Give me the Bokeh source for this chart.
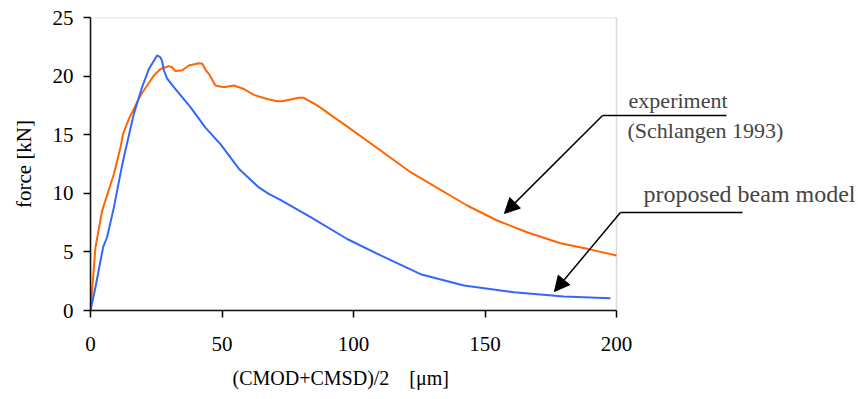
from bokeh.plotting import figure
from bokeh.models import Range1d, Label, Arrow, NormalHead, FixedTicker, BoxAnnotation, Title
from bokeh.embed import file_html
from bokeh.resources import INLINE

# experiment (Schlangen 1993)
exp_x = [0, 1.9, 4.4, 8.9, 11.4, 12.4, 14.6, 19.0, 24.1, 26.6, 29.8, 31.0, 32.3, 34.9,
         37.4, 41.2, 42.5, 43.7, 45.0, 47.5, 50.7, 54.5, 58.3, 62.1, 67.2, 71.0, 72.9,
         79.2, 81.1, 86.2, 92.5, 97.0, 110.3, 121.7, 143.2, 154.6, 166.0, 178.7, 188.9, 200.0]
exp_y = [0, 5.4, 8.5, 11.65, 13.9, 15.1, 16.35, 18.35, 20.05, 20.6, 20.85, 20.76, 20.43, 20.5,
         20.9, 21.1, 21.05, 20.56, 20.2, 19.2, 19.05, 19.2, 18.9, 18.4, 18.05, 17.85, 17.85,
         18.15, 18.15, 17.5, 16.5, 15.8, 13.65, 11.8, 8.96, 7.68, 6.68, 5.74, 5.26, 4.7]

# proposed beam model
model_x = [0, 1.9, 4.8, 6.3, 8.9, 11.4, 12.7, 16.5, 19.6, 22.2, 25.3, 26.6, 27.2, 27.9, 29.1,
           31.7, 38.0, 43.7, 49.4, 56.4, 64.0, 67.8, 72.2, 83.7, 97.6, 110.3, 125.5, 142.0,
           161.0, 180.0, 197.7]
model_y = [0, 2.0, 5.4, 6.25, 8.8, 11.7, 13.1, 16.8, 19.05, 20.6, 21.76, 21.6, 21.3, 20.5, 19.8,
           19.05, 17.35, 15.6, 14.2, 12.1, 10.5, 9.95, 9.44, 7.96, 6.1, 4.7, 3.1, 2.13,
           1.56, 1.19, 1.05]

x_ticks = [0, 50, 100, 150, 200]
y_ticks = [0, 5, 10, 15, 20, 25]
X_MAX, Y_MAX = 200, 25

FONT = "Liberation Serif"

# the frame is widened to the right so the annotations beside the plot area are not clipped;
# the plotted area itself (0..200 x 0..25) is 526 px wide
PX_PER_X = 526 / X_MAX
FRAME_W = 768

p = figure(frame_width=FRAME_W, frame_height=293, output_backend="svg", toolbar_location=None,
           x_range=Range1d(0, FRAME_W / PX_PER_X), y_range=Range1d(0, Y_MAX),
           min_border_left=90, min_border_top=17, min_border_right=0, min_border_bottom=85)
p.background_fill_color = "white"
p.border_fill_color = "white"
p.grid.visible = False
p.outline_line_color = None

# gray border of the plot area
p.add_layout(BoxAnnotation(left=0, right=X_MAX, bottom=0, top=Y_MAX, fill_alpha=0,
                           line_color="#808080", line_width=1.5))

p.xaxis.ticker = FixedTicker(ticks=x_ticks)
p.yaxis.ticker = FixedTicker(ticks=y_ticks)
p.xaxis.bounds = (0, X_MAX)
for ax in (p.xaxis[0], p.yaxis[0]):
    ax.axis_line_color = "black"
    ax.axis_line_width = 1.5
    ax.major_tick_line_color = "black"
    ax.major_tick_line_width = 1.5
    ax.major_tick_in = 0
    ax.major_tick_out = 7
    ax.minor_tick_line_color = None
    ax.major_label_text_font = FONT
    ax.major_label_text_font_size = "21px"
    ax.major_label_text_color = "black"
    ax.axis_label_text_font = FONT
    ax.axis_label_text_font_style = "normal"
    ax.axis_label_text_color = "black"

p.xaxis.major_label_standoff = 19
p.yaxis.major_label_standoff = 10
p.yaxis.axis_label = "force [kN]"
p.yaxis.axis_label_text_font_size = "21px"
p.yaxis.axis_label_standoff = 14

# x axis title, placed under the 0..200 part of the axis
p.add_layout(Title(text="(CMOD+CMSD)/2\u00a0\u00a0\u00a0 [μm]", align="left", offset=142,
                   text_font=FONT, text_font_size="20px", text_font_style="normal",
                   text_color="black", standoff=23), "below")

p.line(exp_x, exp_y, line_color="#FF6600", line_width=2)
p.line(model_x, model_y, line_color="#3366FF", line_width=2)

# annotations (data coordinates)
ann_font = "22px"
p.add_layout(Label(x=204.6, y=17.92, text="experiment", text_font=FONT,
                   text_font_size=ann_font, text_baseline="alphabetic"))
p.add_layout(Label(x=204.2, y=15.36, text="(Schlangen 1993)", text_font=FONT,
                   text_font_size=ann_font, text_baseline="alphabetic"))
p.add_layout(Label(x=210.3, y=9.9, text="proposed beam model", text_font=FONT,
                   text_font_size="24px", text_baseline="alphabetic"))

p.add_layout(Arrow(x_start=194.7, y_start=16.64, x_end=241.8, y_end=16.64, end=None,
                   line_color="black", line_width=1.5))
p.add_layout(Arrow(x_start=201.5, y_start=8.36, x_end=247.9, y_end=8.36, end=None,
                   line_color="black", line_width=1.5))
p.add_layout(Arrow(x_start=194.7, y_start=16.64, x_end=157.4, y_end=8.28,
                   end=NormalHead(size=15, fill_color="black", line_color="black"),
                   line_color="black", line_width=1.5))
p.add_layout(Arrow(x_start=201.5, y_start=8.36, x_end=176.4, y_end=1.62,
                   end=NormalHead(size=15, fill_color="black", line_color="black"),
                   line_color="black", line_width=1.5))

open("out.html", "w").write(file_html(p, INLINE))
